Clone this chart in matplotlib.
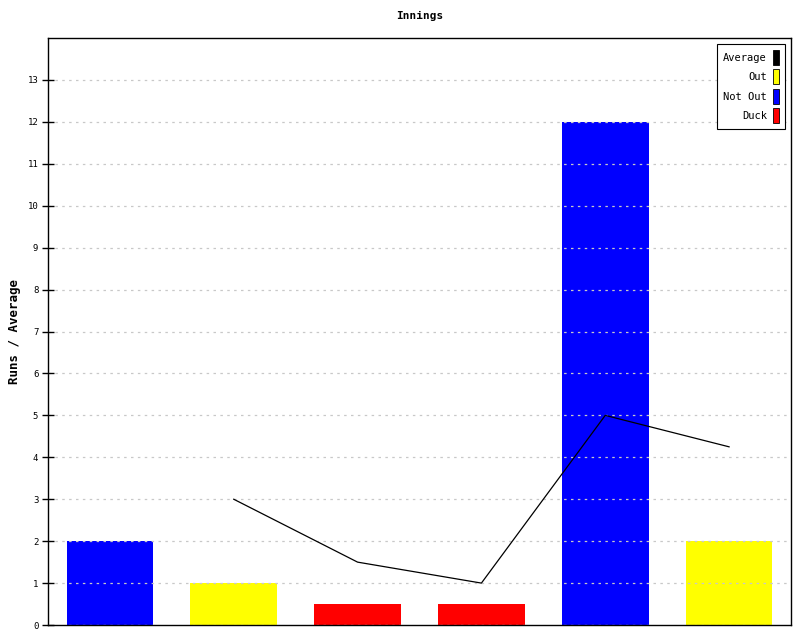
import matplotlib
matplotlib.use("Agg")
import matplotlib.pyplot as plt
from matplotlib.patches import Patch

# Innings data
runs = [2, 1, 0.5, 0.5, 12, 2]
bar_colors = ["#0000ff", "#ffff00", "#ff0000", "#ff0000", "#0000ff", "#ffff00"]
avg_x = [1, 2, 3, 4, 5]
avg_values = [3, 1.5, 1, 5, 4.25]
legend_labels = ["Average", "Out", "Not Out", "Duck"]
legend_colors = ["#000000", "#ffff00", "#0000ff", "#ff0000"]

plt.rcParams["font.family"] = "DejaVu Sans Mono"

fig = plt.figure(figsize=(8, 6.4), dpi=100)
ax = fig.add_axes([0.06, 0.0234, 0.92875, 0.9172])

ax.bar(range(len(runs)), runs, width=0.7, color=bar_colors, zorder=1)
ax.plot(avg_x, avg_values, color="black", linewidth=0.9, zorder=3)

ax.set_xlim(-0.5, len(runs) - 0.5)
ax.set_ylim(0, 14)
ax.set_yticks(range(0, 14))
ax.set_xticks([])
ax.tick_params(axis="y", direction="inout", length=8, width=1, labelsize=6.5, pad=3)
ax.grid(axis="y", color="#c8c8c8", linestyle=(0, (2, 3.5)), linewidth=0.9, zorder=2)
ax.set_axisbelow(False)
for s in ax.spines.values():
    s.set_linewidth(1)

ax.set_title("Innings", fontsize=8, fontweight="bold", pad=14)
ax.set_ylabel("Runs / Average", fontsize=9, fontweight="bold", labelpad=5)

handles = [Patch(facecolor=c, edgecolor="black", linewidth=0.6) for c in legend_colors]
leg = ax.legend(handles, legend_labels, loc="upper right", markerfirst=False,
                fontsize=7.5, handlelength=0.55, handleheight=1.8, handletextpad=0.6,
                labelspacing=0.45, borderpad=0.6, borderaxespad=0.55, fancybox=False,
                framealpha=1, edgecolor="black")
leg.get_frame().set_linewidth(0.8)
for t in leg.get_texts():
    t.set_ha("right")

fig.savefig("out.png", dpi=100)
